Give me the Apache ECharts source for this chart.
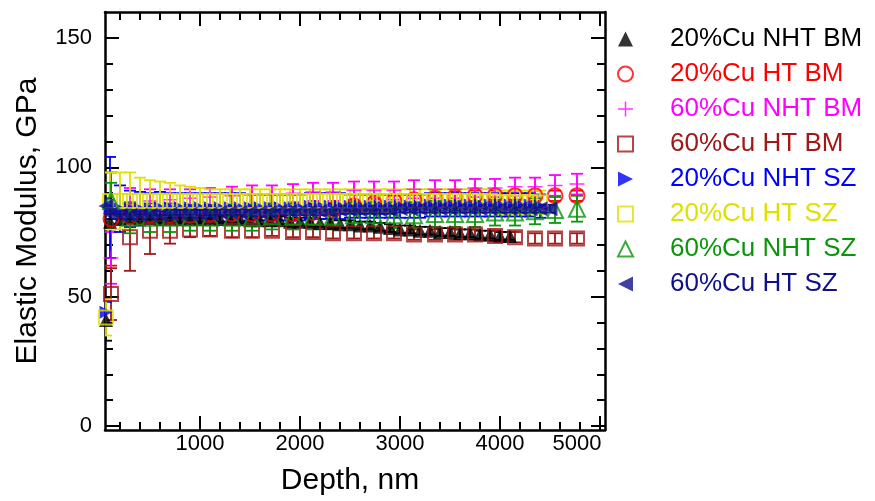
<!DOCTYPE html>
<html>
<head>
<meta charset="utf-8">
<title>Elastic modulus vs depth</title>
<script src="https://cdn.jsdelivr.net/npm/echarts@6/dist/echarts.min.js"></script>
<style>
  html, body { margin: 0; padding: 0; background: #fff; }
  #chart { width: 875px; height: 501px; }
</style>
</head>
<body>
<div id="chart"></div>
<script>
// legend order = drawing order
const seriesNames = ['20%Cu NHT BM', '20%Cu HT BM', '60%Cu NHT BM', '60%Cu HT BM',
  '20%Cu NHT SZ', '20%Cu HT SZ', '60%Cu NHT SZ', '60%Cu HT SZ'];

// tick values
const xTicks = [1000, 2000, 3000, 4000, 5000];
const xMinorTicks = [200, 400, 600, 800, 1200, 1400, 1600, 1800, 2200, 2400, 2600, 2800,
  3200, 3400, 3600, 3800, 4200, 4400, 4600, 4800];
const yTicks = [0, 50, 100, 150];
const yMinorTicks = [10, 20, 30, 40, 60, 70, 80, 90, 110, 120, 130, 140];

// depths (nm), densely sampled runs
const depth20NhtBm = [60, 100, 200, 300, 400, 500, 600, 700, 800, 900, 1000, 1100, 1200, 1300, 1400,
  1500, 1600, 1700, 1800, 1900, 2000, 2100, 2200, 2300, 2400, 2500, 2600, 2700, 2800, 2900, 3000,
  3100, 3200, 3300, 3400, 3500, 3600, 3700, 3800, 3900, 4000, 4100];
const depthSz20 = [60, 100, 200, 300, 400, 500, 600, 700, 800, 900, 1000, 1100, 1200, 1300, 1400,
  1500, 1600, 1700, 1800, 1900, 2000, 2100, 2200, 2300, 2400, 2500, 2600, 2700, 2800, 2900, 3000,
  3100, 3200, 3300, 3400, 3500, 3600, 3700, 3800, 3900, 4000, 4100, 4200, 4300, 4400];
const depth60HtSz = [60, 100, 200, 300, 400, 500, 600, 700, 800, 900, 1000, 1100, 1200, 1300, 1400,
  1500, 1600, 1700, 1800, 1900, 2000, 2100, 2200, 2300, 2400, 2500, 2600, 2700, 2800, 2900, 3000,
  3100, 3200, 3300, 3400, 3500, 3600, 3700, 3800, 3900, 4000, 4100, 4200, 4300, 4400, 4500];
// depths (nm), sparsely sampled runs
const depthSparse = [110, 300, 500, 700, 900, 1100, 1320, 1520, 1720, 1930, 2130, 2330, 2540, 2740,
  2940, 3140, 3350, 3550, 3750, 3950, 4150, 4350, 4550, 4770];

// modulus (GPa) and error (GPa)
const mod20NhtBm = [41, 79, 80, 80.5, 80.5, 80.5, 80, 80, 80, 80, 80, 80, 80, 80, 80, 79.5, 79.5, 79.5,
  79.5, 79, 79, 79, 78.5, 78.5, 78, 78, 77.5, 77.5, 77, 76.5, 76, 76, 75.5, 75.5, 75, 75, 74.5, 74.5,
  74, 74, 73.5, 73.5];
const err20NhtBm = [8, 3, 2, 2, 1.5, 1.5, 1.5, 1.5, 1.5, 1.5, 1.5, 1.5, 1.5, 1.5, 1.5, 1.5, 1.5, 1.5,
  1.5, 1.5, 1.5, 1.5, 1.5, 1.5, 1.5, 1.5, 1.5, 1.5, 1.5, 1.5, 1.5, 1.5, 1.5, 1.5, 1.5, 1.5, 1.5, 1.5,
  1.5, 1.5, 1.5, 1.5];

const mod20HtBm = [80, 81, 81.5, 81.5, 81.5, 82, 82, 82, 82, 82, 82.5, 83.5, 85, 86, 87, 87.5, 88,
  88.5, 89, 89, 89, 89, 89, 89];
const err20HtBm = [18, 4, 3, 2.5, 2, 2, 2, 2, 2, 2, 2, 2, 2, 2, 2, 2, 2, 2, 2, 2, 2, 2, 2, 2];

const mod60NhtBm = [65, 86, 87, 87.5, 88, 88.5, 89, 89.5, 89.5, 90, 90.5, 90.5, 91, 91, 91, 91.5,
  91.5, 91.5, 92, 92, 92.5, 92.5, 93, 93.5];
const err60NhtBm = [10, 6, 4.5, 4, 3.5, 3.5, 3.5, 3.5, 3.5, 3.5, 3.5, 3.5, 3.5, 3.5, 3.5, 3.5, 3.5,
  3.5, 3.5, 3.5, 3.5, 3.5, 4, 4];

const mod60HtBm = [51, 73, 75.5, 75.5, 76, 76, 75.5, 75.5, 75.5, 75, 75, 74.5, 74.5, 74.5, 74.5, 74,
  74, 74, 74, 73.5, 73, 72.5, 72.5, 72.5];
const err60HtBm = [10, 13, 9, 5, 3, 2.5, 2.5, 2.5, 2, 2, 2, 2, 2, 2, 2, 2, 2, 2, 2, 2, 2, 2, 2, 2];

const mod20NhtSz = [44, 84.5, 84, 84, 84, 84, 84.5, 84.5, 84.5, 84.5, 84.5, 84.5, 84.5, 84.5, 84.5,
  84.5, 84.5, 84.5, 84.5, 84.5, 84.5, 85, 85, 85, 85, 85, 85, 85, 85, 85, 85, 85, 85, 85.5, 85.5,
  85.5, 85.5, 85.5, 85.5, 85.5, 85.5, 85.5, 85.5, 85.5, 85];
const err20NhtSz = [4, 19.5, 9, 7, 6.5, 6, 6, 5.5, 5.5, 5.5, 5.5, 5.5, 5.5, 5.5, 5.5, 5, 5, 5, 5, 5,
  5, 5, 5, 5, 5, 4.5, 4.5, 4.5, 4.5, 4.5, 4.5, 4.5, 4.5, 4.5, 4.5, 4.5, 4.5, 4.5, 4.5, 4.5, 4.5, 4.5,
  4.5, 4.5, 4.5];

const mod20HtSz = [42, 87, 87, 87, 87, 87, 87, 87, 87, 87, 87, 87, 87, 87, 87, 87, 87, 87, 87, 87, 87,
  87, 87, 87, 87, 87, 87, 87, 87, 87, 87, 87, 87, 87, 87, 87, 87, 87, 87, 87, 86.5, 86.5, 86.5, 86.5,
  86.5];
const err20HtSz = [7, 11, 11, 11, 9, 8, 7.5, 7, 6, 5.5, 5, 4.5, 4.5, 4.5, 4.5, 4.5, 4.5, 4.5, 4.5, 4.5,
  4.5, 4.5, 4.5, 4.5, 4.5, 4.5, 4.5, 4.5, 4.5, 4.5, 4.5, 4.5, 4.5, 4.5, 4.5, 4.5, 4.5, 4.5, 4.5, 4.5,
  4.5, 4.5, 4.5, 4.5, 4.5];

const mod60NhtSz = [87, 80.5, 80.5, 80.5, 80.5, 80.5, 80.5, 80.5, 81, 81, 81, 81, 81.5, 81.5, 81.5,
  81.5, 82, 82, 82, 82.5, 82.5, 83, 83.5, 84];
const err60NhtSz = [7, 6, 5.5, 5.5, 5, 5, 5, 5, 5, 5, 5, 5, 5, 5, 5, 5, 5, 5, 5, 5, 5, 5, 5, 5];

const mod60HtSz = [85, 82, 81.5, 81.5, 81.5, 81.5, 81.5, 82, 82, 82, 82, 82, 82.5, 82.5, 82.5, 82.5,
  82.5, 82.5, 83, 83, 83, 83, 83, 83, 83.5, 83.5, 83.5, 83.5, 83.5, 83.5, 84, 84, 84, 84, 84, 84, 84,
  84, 84, 84, 84, 84, 84, 84, 84, 84];
const err60HtSz = [3, 2, 1.5, 1.5, 1.5, 1.5, 1.5, 1.5, 1.5, 1.5, 1.5, 1.5, 1.5, 1.5, 1.5, 1.5, 1.5,
  1.5, 1.5, 1.5, 1.5, 1.5, 1.5, 1.5, 1.5, 1.5, 1.5, 1.5, 1.5, 1.5, 1.5, 1.5, 1.5, 1.5, 1.5, 1.5, 1.5,
  1.5, 1.5, 1.5, 1.5, 1.5, 1.5, 1.5, 1.5, 1.5];

const runs = [
  [depth20NhtBm, mod20NhtBm, err20NhtBm],
  [depthSparse, mod20HtBm, err20HtBm],
  [depthSparse, mod60NhtBm, err60NhtBm],
  [depthSparse, mod60HtBm, err60HtBm],
  [depthSz20, mod20NhtSz, err20NhtSz],
  [depthSz20, mod20HtSz, err20HtSz],
  [depthSparse, mod60NhtSz, err60NhtSz],
  [depth60HtSz, mod60HtSz, err60HtSz]
];

// marker look for each run
const plusPath = 'path://M9,0h2v20h-2zM0,9h20v2h-20z';
const rightTri = 'path://M0,0L16,8L0,16Z';
const leftTri = 'path://M16,0L0,8L16,16Z';
const looks = [
  { color: '#000000', symbol: 'triangle', size: 14, open: false },
  { color: '#ff0000', symbol: 'circle', size: 15, open: true },
  { color: '#ff00ff', symbol: plusPath, size: 15, open: false },
  { color: '#a01818', symbol: 'rect', size: 14, open: true },
  { color: '#0000ff', symbol: rightTri, size: 13, open: false },
  { color: '#e0e000', symbol: 'rect', size: 14, open: true },
  { color: '#0a960a', symbol: 'triangle', size: 16, open: true },
  { color: '#10108c', symbol: leftTri, size: 15, open: false }
];

const FONT = '"Liberation Sans", Arial, sans-serif';
const chart = echarts.init(document.getElementById('chart'));

// vertical error bar with caps
function errorBar(color) {
  return function (params, api) {
    const x = api.value(0), y = api.value(1), e = api.value(2);
    const top = api.coord([x, y + e]);
    const bot = api.coord([x, y - e]);
    const w = 6;
    const st = { stroke: color, lineWidth: 1.8 };
    return {
      type: 'group',
      children: [
        { type: 'line', shape: { x1: top[0], y1: top[1], x2: bot[0], y2: bot[1] }, style: st },
        { type: 'line', shape: { x1: top[0] - w, y1: top[1], x2: top[0] + w, y2: top[1] }, style: st },
        { type: 'line', shape: { x1: bot[0] - w, y1: bot[1], x2: bot[0] + w, y2: bot[1] }, style: st }
      ]
    };
  };
}

const series = [];
runs.forEach(([depth, mod, err], i) => {
  const lk = looks[i];
  series.push({
    name: seriesNames[i] + ' err',
    type: 'custom',
    renderItem: errorBar(lk.color),
    data: depth.map((d, k) => [d, mod[k], err[k]]),
    clip: true,
    silent: true
  });
  series.push({
    name: seriesNames[i],
    type: 'scatter',
    symbol: lk.symbol,
    symbolSize: lk.size,
    symbolKeepAspect: true,
    itemStyle: lk.open
      ? { color: 'rgba(255,255,255,0)', borderColor: lk.color, borderWidth: 2 }
      : { color: lk.color },
    data: depth.map((d, k) => [d, mod[k]])
  });
});

const baseX = {
  type: 'value', min: 50, max: 5050,
  axisLine: { show: false, onZero: false },
  axisLabel: { show: false },
  splitLine: { show: false }
};
const baseY = {
  type: 'value', min: -1.5, max: 160,
  axisLine: { show: false, onZero: false },
  axisLabel: { show: false },
  splitLine: { show: false }
};
const frame = { show: true, onZero: false, lineStyle: { color: '#000', width: 2.5 } };
const tick = (vals, len) => ({
  show: true, inside: true, length: len, customValues: vals,
  lineStyle: { color: '#000', width: 2 }
});

const option = {
  animation: false,
  backgroundColor: '#fff',
  grid: { left: 105, top: 12, right: 270, bottom: 69 },
  xAxis: [
    Object.assign({}, baseX, {
      position: 'bottom',
      axisLine: frame,
      axisTick: tick(xTicks, 14),
      name: 'Depth, nm',
      nameLocation: 'middle',
      nameGap: 36,
      nameTextStyle: { fontSize: 30, fontFamily: FONT, color: '#000', padding: [0, 10, 0, 0] },
      axisLabel: {
        show: true, customValues: xTicks, margin: 3,
        fontSize: 22, fontFamily: FONT, color: '#000',
        formatter: v => (v === 5000 ? '{e|5000}' : String(v)),
        rich: { e: { fontSize: 22, fontFamily: FONT, color: '#000', padding: [0, 46, 0, 0] } }
      }
    }),
    Object.assign({}, baseX, { position: 'bottom', axisTick: tick(xMinorTicks, 8) }),
    Object.assign({}, baseX, { position: 'top', axisLine: frame, axisTick: tick(xTicks, 14) }),
    Object.assign({}, baseX, { position: 'top', axisTick: tick(xMinorTicks, 8) })
  ],
  yAxis: [
    Object.assign({}, baseY, {
      position: 'left',
      axisLine: frame,
      axisTick: tick(yTicks, 14),
      name: 'Elastic Modulus, GPa',
      nameLocation: 'middle',
      nameGap: 62,
      nameTextStyle: { fontSize: 30, fontFamily: FONT, color: '#000' },
      axisLabel: { show: true, customValues: yTicks, margin: 13, fontSize: 22, fontFamily: FONT, color: '#000' }
    }),
    Object.assign({}, baseY, { position: 'left', axisTick: tick(yMinorTicks, 8) }),
    Object.assign({}, baseY, { position: 'right', axisLine: frame, axisTick: tick(yTicks, 14) }),
    Object.assign({}, baseY, { position: 'right', axisTick: tick(yMinorTicks, 8) })
  ],
  legend: {
    orient: 'vertical',
    left: 612,
    top: 21,
    itemWidth: 15,
    itemHeight: 15,
    itemGap: 9,
    selectedMode: false,
    textStyle: { fontSize: 26, lineHeight: 26, fontFamily: FONT, padding: [0, 0, 0, 32] },
    data: seriesNames.map((n, i) => ({ name: n, textStyle: { color: looks[i].color } }))
  },
  series: series
};

option && chart.setOption(option);
</script>
</body>
</html>
